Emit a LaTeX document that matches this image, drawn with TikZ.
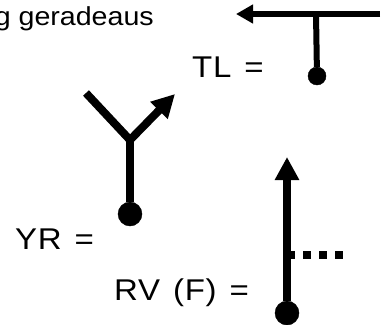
\documentclass[tikz,border=0pt]{standalone}
\usepackage{fontspec}
\usepackage{tikz}
\usetikzlibrary{arrows.meta}
\setmainfont{Liberation Sans}
\newfontfamily\headfont[FakeStretch=1.1]{Liberation Sans}
\newfontfamily\labfont[FakeStretch=1.1, LetterSpace=2.5, WordSpace=1.3]{Liberation Sans}
\tikzstyle{lab}=[inner sep=0pt, font=\fontsize{30}{30}\labfont]
\tikzstyle{head}=[inner sep=0pt, font=\fontsize{26}{26}\headfont]
\tikzstyle{knob}=[draw, fill, circle, inner sep=0pt]
\tikzstyle{bigknob}=[knob, minimum size=24pt]
\tikzstyle{smallknob}=[knob, minimum size=18pt]
\tikzstyle{thin}=[line width=6pt]
\tikzstyle{thick}=[line width=8pt]

\begin{document}
\begin{tikzpicture}[x=1pt, y=-1pt]
        \useasboundingbox (0, 0) rectangle (390, 324);
        \node[head, anchor=base east] (HEAD) at (154, 25) {g geradeaus};
        \node[lab, anchor=base west] (TL) at (192, 77) {TL =};
        \node[lab, anchor=base west] (YR) at (15, 249) {YR =};
        \node[lab, anchor=base west] (RV) at (114, 300) {RV (F) =};
        % TL
        \coordinate (TLa) at (380, 14);
        \coordinate (TLb) at (316, 14);
        \coordinate (TLc) at (236, 14);
        \node[smallknob] (TLd) at (317, 76) {};
        \draw[thin, -{Triangle[length=17pt, width=18pt]}] (TLa) -- (TLc);
        \draw[thin] (TLb) -- (TLd);
        % YR
        \coordinate (YRa) at (130, 140);
        \coordinate (YRb) at (86, 93);
        \coordinate (YRc) at (175, 94);
        \node[bigknob] (YRd) at (130, 214) {};
        \draw[thick] (YRb) -- (YRa);
        \draw[thick, -{Triangle[length=23pt, width=23pt]}] (YRa) -- (YRc);
        \draw[thick] (YRa) -- (YRd);
        % RV
        \coordinate (RVa) at (287, 157);
        \coordinate (RVb) at (287, 255);
        \coordinate (RVc) at (343, 255);
        \node[bigknob] (RVd) at (287, 313) {};
        \draw[thick, -{Triangle[length=23pt, width=23pt]}] (RVd) -- (RVa);
        \draw[thick, dash pattern=on 8pt off 8pt] (RVb) -- (RVc);
    \end{tikzpicture}
\end{document}
